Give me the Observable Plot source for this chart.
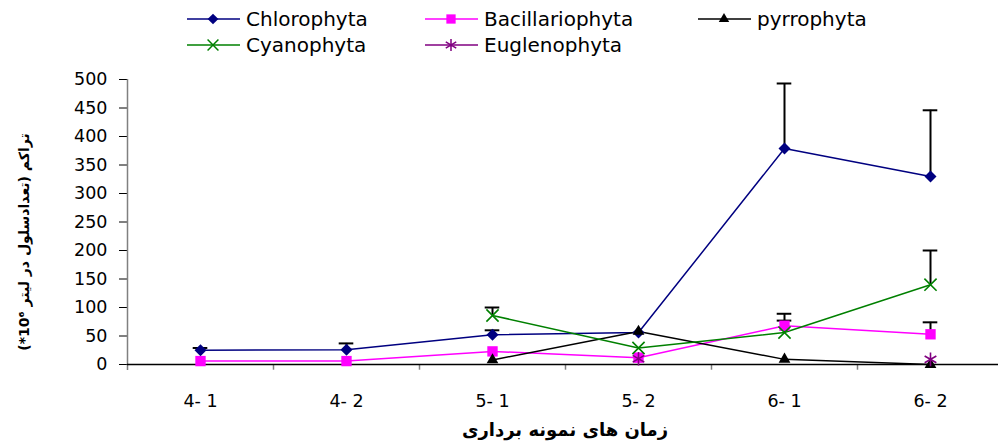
<!DOCTYPE html>
<html>
<head>
<meta charset="utf-8">
<script src="https://cdn.jsdelivr.net/npm/d3@7"></script>
<script src="https://cdn.jsdelivr.net/npm/@observablehq/plot@0.6"></script>
<style>
  html, body { margin: 0; padding: 0; background: white; overflow: hidden; }
  #wrap { width: 998px; height: 442px; position: relative; font-family: "DejaVu Sans", sans-serif; }
  #legend { display: block; }
</style>
</head>
<body>
<div id="wrap"></div>
<script>
// ---- data ----
const categories = ["4- 1", "4- 2", "5- 1", "5- 2", "6- 1", "6- 2"];
const seriesNames = ["Chlorophyta", "Bacillariophyta", "pyrrophyta", "Cyanophyta", "Euglenophyta"];
const chlorophyta     = [25, 26, 52, 56, 379, 330];
const chlorophytaErr  = [4, 11, 8, null, 114, 116];
const bacillariophyta = [6, 6, 23, 12, 68, 53];
const bacillariophytaErr = [null, null, null, null, 21, 21];
const pyrrophyta      = [null, null, 8, 58, 9, 0];
const pyrrophytaErr   = [null, null, null, null, null, null];
const cyanophyta      = [null, null, 86, 29, 56, 140];
const cyanophytaErr   = [null, null, 14, null, 21, 60];
const euglenophyta    = [null, null, null, 10, null, 9];
const euglenophytaErr = [null, null, null, null, null, null];
const yTicks = [0, 50, 100, 150, 200, 250, 300, 350, 400, 450, 500];
const xTitle = "زمان های نمونه برداری";
const yTitle = "تراکم (تعدادسلول در لیتر 10⁶*)";

// ---- styles per series ----
const styles = {
  Chlorophyta:     {color: "#000080", symbol: "diamond2", r: 5.4, line: true},
  Bacillariophyta: {color: "#FF00FF", symbol: "square2",  r: 6.6, line: true},
  pyrrophyta:      {color: "#000000", symbol: "triangle2", r: 5.6, line: true},
  Cyanophyta:      {color: "#008000", symbol: "times",    r: 5.6, line: true},
  Euglenophyta:    {color: "#800080", symbol: "asterisk", r: 6.4, line: false}
};
const valueArrays = [chlorophyta, bacillariophyta, pyrrophyta, cyanophyta, euglenophyta];
const errArrays = [chlorophytaErr, bacillariophytaErr, pyrrophytaErr, cyanophytaErr, euglenophytaErr];

const rows = [];
seriesNames.forEach((s, k) => {
  valueArrays[k].forEach((v, i) => {
    if (v != null) rows.push({series: s, i, value: v, err: errArrays[k][i]});
  });
});
const errRows = rows.filter(d => d.err != null);

// ---- legend ----
const wrap = d3.select("#wrap");
const legend = wrap.append("svg").attr("id", "legend").attr("width", 998).attr("height", 60);
const legendPos = [
  {name: "Chlorophyta", x: 187, y: 19},
  {name: "Bacillariophyta", x: 425, y: 19},
  {name: "pyrrophyta", x: 698, y: 19},
  {name: "Cyanophyta", x: 187, y: 45},
  {name: "Euglenophyta", x: 425, y: 45}
];
const symMap = {
  diamond2: d3.symbolDiamond2, square2: d3.symbolSquare2, triangle2: d3.symbolTriangle2,
  times: d3.symbolTimes, asterisk: d3.symbolAsterisk
};
const filledSyms = new Set(["diamond2", "square2", "triangle2"]);
legendPos.forEach(p => {
  const st = styles[p.name];
  const g = legend.append("g");
  g.append("line").attr("x1", p.x).attr("x2", p.x + 53).attr("y1", p.y).attr("y2", p.y)
    .attr("stroke", st.color).attr("stroke-width", 1.5);
  const size = Math.PI * st.r * st.r * 0.8;
  g.append("path").attr("d", d3.symbol(symMap[st.symbol], size)())
    .attr("transform", `translate(${p.x + 26},${p.y})`)
    .attr("fill", filledSyms.has(st.symbol) ? st.color : "none")
    .attr("stroke", st.color).attr("stroke-width", filledSyms.has(st.symbol) ? 0 : 1.5);
  g.append("text").attr("x", p.x + 59).attr("y", p.y).attr("dy", "0.36em")
    .attr("font-family", "DejaVu Sans").attr("font-size", 20).attr("fill", "black").text(p.name);
});

// ---- chart ----
const marks = [
  // axis lines
  Plot.ruleX([-0.5], {y1: () => -10.5, y2: () => 500, stroke: "#808080", strokeWidth: 1.5}),
  Plot.ruleX(d3.range(1, categories.length), {x: i => i - 0.5, y1: () => 0, y2: () => -10, stroke: "#808080", strokeWidth: 1.5}),
  Plot.ruleY([0], {stroke: "black", strokeWidth: 1.5}),
  // error bars
  Plot.ruleX(errRows, {x: "i", y1: "value", y2: d => d.value + d.err, stroke: "black", strokeWidth: 2}),
  Plot.ruleY(errRows, {y: d => d.value + d.err, x1: d => d.i - 0.05, x2: d => d.i + 0.05, stroke: "black", strokeWidth: 2})
];
seriesNames.forEach(s => {
  const st = styles[s];
  const data = rows.filter(d => d.series === s);
  if (st.line) marks.push(Plot.line(data, {x: "i", y: "value", stroke: st.color, strokeWidth: 1.5}));
});
seriesNames.forEach(s => {
  const st = styles[s];
  const data = rows.filter(d => d.series === s);
  const filled = filledSyms.has(st.symbol);
  marks.push(Plot.dot(data, {
    x: "i", y: "value", symbol: () => st.symbol, r: st.r,
    fill: filled ? st.color : "none", stroke: filled ? "none" : st.color, strokeWidth: 1.6
  }));
});
marks.push(Plot.text([xTitle], {frameAnchor: "bottom", dy: 71, dx: 2, fontWeight: "bold", fontSize: 18, fill: "black"}));
marks.push(Plot.text([yTitle], {frameAnchor: "left", textAnchor: "middle", dx: -103, dy: 20, rotate: -90, fontWeight: "bold", fontSize: 14, fill: "black"}));

const chart = Plot.plot({
  width: 998,
  height: 382,
  marginLeft: 127,
  marginRight: 0,
  marginTop: 19,
  marginBottom: 78,
  style: {fontFamily: "DejaVu Sans", fontSize: "17.5px", color: "black", background: "white"},
  x: {
    type: "linear", domain: [-0.5, categories.length - 0.5], range: [127, 1003],
    ticks: d3.range(categories.length), tickFormat: i => categories[i],
    tickSize: 0, tickPadding: 30, label: null
  },
  y: {domain: [0, 500], range: [304, 19], ticks: yTicks, tickSize: 8, tickPadding: 12, label: null},
  symbol: {type: "identity"},
  marks
});
document.getElementById("wrap").appendChild(chart);
</script>
</body>
</html>
